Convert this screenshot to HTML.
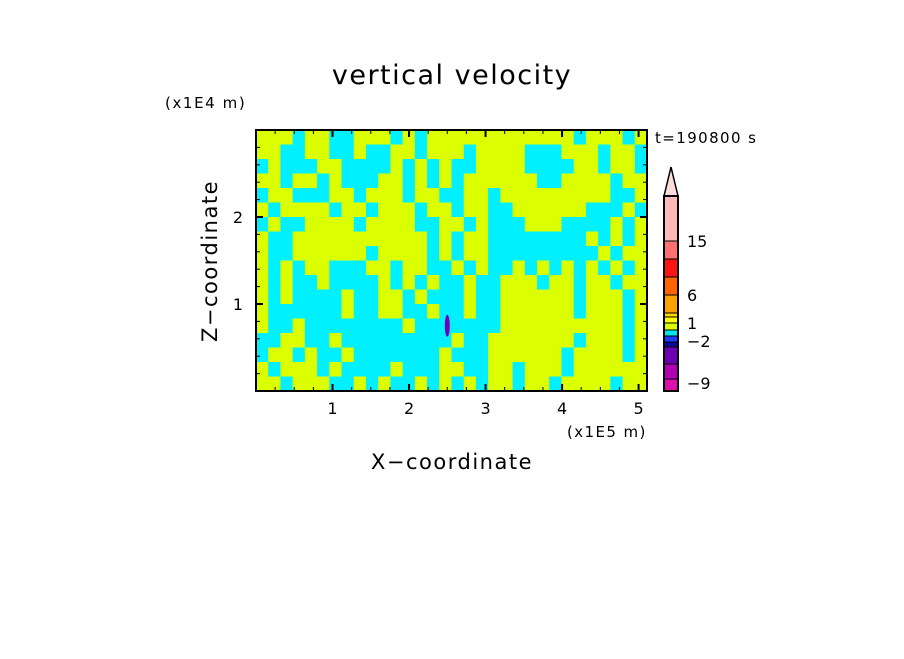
<!DOCTYPE html>
<html><head><meta charset="utf-8"><style>
body{margin:0;background:#fff;width:904px;height:654px;overflow:hidden}
svg text{font-family:"DejaVu Sans","Liberation Sans",sans-serif;fill:#000}
</style></head><body>
<svg id="chart" width="904" height="654" xmlns="http://www.w3.org/2000/svg">
<rect width="904" height="654" fill="#fff"/>
<text x="452" y="84" font-size="27" letter-spacing="1.5" text-anchor="middle">vertical velocity</text>
<text x="165" y="108" font-size="15" letter-spacing="1.6">(x1E4 m)</text>
<text x="655" y="143" font-size="15" letter-spacing="1.4">t=190800 s</text>
<text x="567" y="437" font-size="15" letter-spacing="1.4">(x1E5 m)</text>
<text x="452" y="469" font-size="21" letter-spacing="1.5" text-anchor="middle">X−coordinate</text>
<text transform="translate(217,261) rotate(-90)" font-size="21" letter-spacing="1.5" text-anchor="middle">Z−coordinate</text>
<g id="field"></g>
<g id="axes"></g>
<g id="cbar"></g>
</svg>
<script>
const xRange=[0,5.11];
const zRange=[0,3.0];
const xTicks=[1,2,3,4,5];
const zTicks=[1,2];
const fieldRows=[
"YYYCYYCCYYYCYCYYYYYYYYYYYYCYYYCY",
"YYCCYYCCYCCYYCYYYCYYYYCCCYYYCYYC",
"CYCCCYYCCCCYCYCYCCYYYYCCCCYYCYYC",
"YYCYYCYCCCYYCYCYCYYYYYYCCYYYYCYY",
"CYYCCCYYCYYYCYYCCYYCYYYYYYYYYCCY",
"YCYYYYCYYCYYYCYYCYYCCYYYYYYCCCYC",
"CYCCYYYYCYYYYCCYYCYCCCYYYCCCCYCY",
"YCCYYYYYYYYYYYCYCYYCCCCCCCCYCYCY",
"YCCYYYYYYCYYYYCYCYYCCCCCCCCCYCYY",
"YCYCYYCCCYYCYYCCYCYCCYCYCYCYCYCY",
"YCYCCYCCCCYCYCYCCYCCYYYCYYCYYCYY",
"YCYCCCCYCCYYCYCCCYCCYYYYYYCYYYCY",
"YCCCCCCYCCYYCCYCCYCCYYYYYYCYYYCY",
"YCCYCCCCCCCCYCCCCCCCYYYYYYYYYYCY",
"CCYYCCYCCCCCCCCCYCCYYYYYYYCYYYCY",
"CYYCYCCYCCCCCCCYCCCYYYYYYCYYYYCY",
"YCYYYCYCCCCYCCCYYCCYYCYYYCYYYYYY",
"YYCYYYCCYCYCCYCYCYCYYCYYCYYYYCYY"];
const cbLevels=["-9","-2","1","6","15"];
const cbColors=["#e010b0","#b400b4","#6e00b4","#0a0aa0","#1e3cff","#00e6f0","#dcff00","#ffff00","#ffd200","#ffa000","#ff6400","#ff1414","#ff7070","#ffb9b9"];
const cbBounds=[391,379,364,347,342,336,330,323,317,313,295,277,259,241,196];
const cbLabelY=[383,341,323,295,241];

const NS="http://www.w3.org/2000/svg";
const L=256,R=647,T=130,B=391;
const sx=v=>L+(v-xRange[0])/(xRange[1]-xRange[0])*(R-L);
const sz=v=>B-(v-zRange[0])/(zRange[1]-zRange[0])*(B-T);
function mk(tag,attrs,parent){const e=document.createElementNS(NS,tag);for(const k in attrs)e.setAttribute(k,attrs[k]);parent.appendChild(e);return e;}
const field=document.getElementById('field');
const nr=fieldRows.length,nc=fieldRows[0].length;
for(let r=0;r<nr;r++){for(let c=0;c<nc;c++){
 const x0=sx(xRange[0]+(xRange[1]-xRange[0])*c/nc),x1=sx(xRange[0]+(xRange[1]-xRange[0])*(c+1)/nc);
 const y0=sz(zRange[1]-(zRange[1]-zRange[0])*r/nr),y1=sz(zRange[1]-(zRange[1]-zRange[0])*(r+1)/nr);
 const e=mk('rect',{x:x0,y:y0,width:x1-x0+0.6,height:y1-y0+0.6,fill:fieldRows[r][c]==='Y'?'#dcff00':'#00f0ff'},field);
 
 
}}
const blob=mk('ellipse',{cx:sx(2.5),cy:sz(0.75),rx:2.5,ry:11,fill:'#7000c0'},field);


const axes=document.getElementById('axes');
mk('rect',{x:L,y:T,width:R-L,height:B-T,fill:'none',stroke:'#000','stroke-width':2},axes);
for(let v=0.25;v<xRange[1];v+=0.25){const maj=Math.abs(v-Math.round(v))<1e-6;const len=maj?7:4;
 mk('line',{x1:sx(v),x2:sx(v),y1:B,y2:B-len,stroke:'#000','stroke-width':maj?2:1},axes);
 mk('line',{x1:sx(v),x2:sx(v),y1:T,y2:T+len,stroke:'#000','stroke-width':maj?2:1},axes);}
for(let v=0.2;v<zRange[1]-0.01;v+=0.2){const maj=Math.abs(v-Math.round(v))<1e-6;const len=maj?7:4;
 mk('line',{y1:sz(v),y2:sz(v),x1:L,x2:L+len,stroke:'#000','stroke-width':maj?2:1},axes);
 mk('line',{y1:sz(v),y2:sz(v),x1:R,x2:R-len,stroke:'#000','stroke-width':maj?2:1},axes);}
xTicks.forEach(v=>{const t=mk('text',{x:sx(v),y:B+23,'font-size':16,'text-anchor':'middle'},axes);t.textContent=v;
 
 });
zTicks.forEach(v=>{const t=mk('text',{x:L-13,y:sz(v)+6,'font-size':16,'text-anchor':'end'},axes);t.textContent=v;
 
 });
const cb=document.getElementById('cbar');
const CL=664,CR=678;
for(let i=0;i<cbColors.length;i++){
 const e=mk('rect',{x:CL,y:cbBounds[i+1],width:CR-CL,height:cbBounds[i]-cbBounds[i+1],fill:cbColors[i],stroke:'#000','stroke-width':1},cb);
 
 
}
const tri=mk('polygon',{points:`${CL},196 ${CR},196 ${(CL+CR)/2},167`,fill:'#ffdcdc',stroke:'#000','stroke-width':1.5},cb);


mk('rect',{x:CL,y:196,width:CR-CL,height:391-196,fill:'none',stroke:'#000','stroke-width':2},cb);
cbLevels.forEach((s,i)=>{const t=mk('text',{x:687,y:cbLabelY[i]+6,'font-size':16},cb);t.textContent=s.replace('-','−');
 
 });
</script>
</body></html>
